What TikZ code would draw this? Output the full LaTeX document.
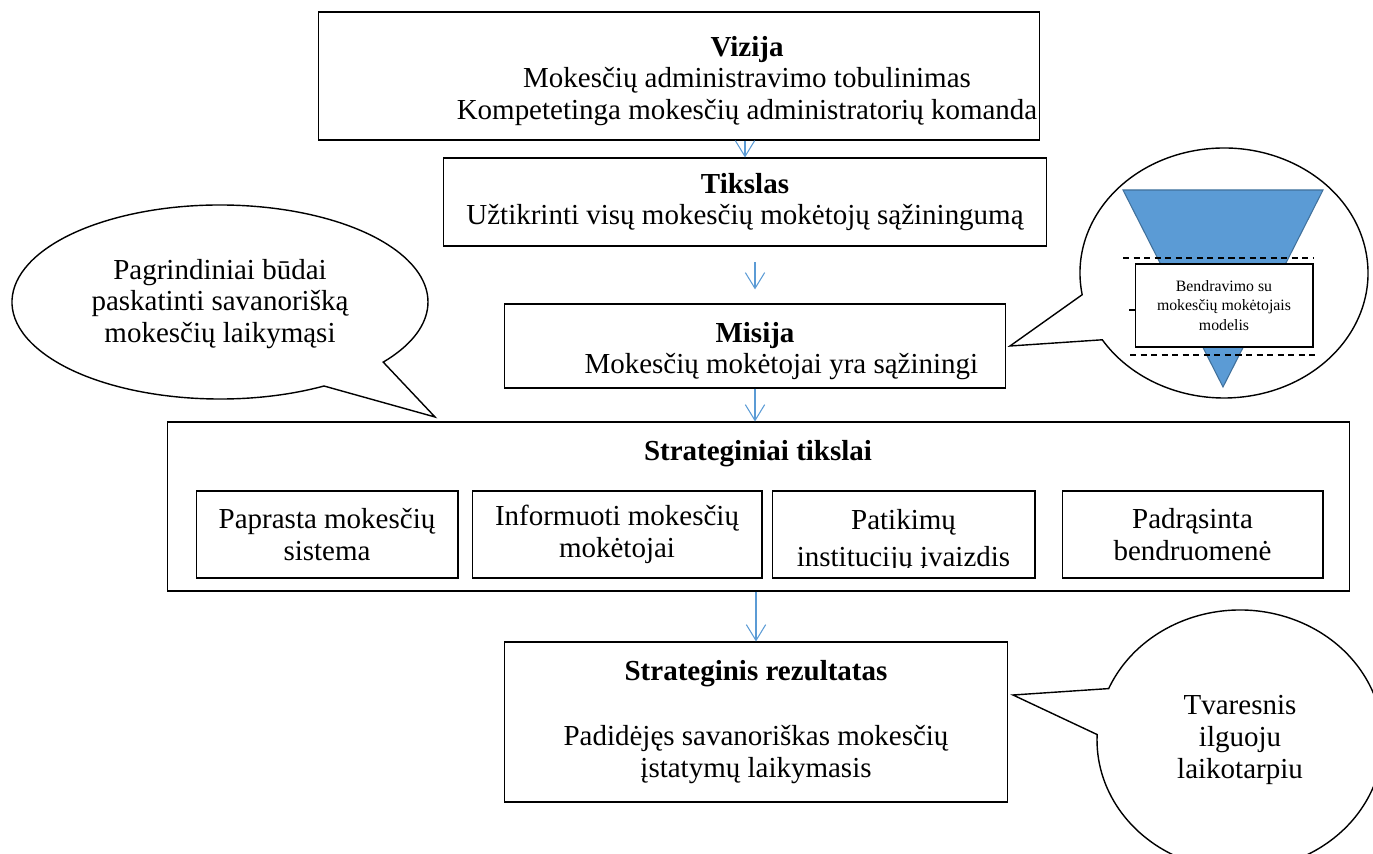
\documentclass[tikz,border=0pt]{standalone}
\usepackage{fontspec}
\setmainfont{Liberation Serif}
\usetikzlibrary{arrows.meta}
\definecolor{arrowblue}{HTML}{5B9BD5}
\definecolor{funnelblue}{HTML}{5B9BD5}
\definecolor{funneledge}{HTML}{41719C}
\begin{document}
\begin{tikzpicture}[x = 0.02cm, y = -0.02cm,
        every node/.style = {font = \fontsize{16.5}{18}\selectfont, align = center},
        box/.style = {draw, line width = 0.6pt, inner sep = 0pt},
        goal/.style = {box, minimum height = 1.74cm},
        arr/.style = {arrowblue, line width = 0.6pt, -{Straight Barb[length = 9pt, width = 11pt]}},
        bubble/.style = {draw, line width = 0.8pt, fill = white},
        guide/.style = {line width = 0.6pt, dash pattern = on 3.5pt off 2.5pt}]
    \clip (0, 0) rectangle (1373, 854);
    \node[box, minimum width = 14.44cm, minimum height = 2.56cm] (vizija) at (679, 76) {};
    \node (vizijatxt) at (747, 81)
        {\textbf{Vizija}\\ Mokesčių administravimo tobulinimas\\ Kompetetinga mokesčių administratorių komanda};
    \node[box, minimum width = 12.08cm, minimum height = 1.76cm] (tikslas) at (745, 202)
        {\textbf{Tikslas}\\ Užtikrinti visų mokesčių mokėtojų sąžiningumą};
    \node[box, minimum width = 10.04cm, minimum height = 1.68cm] (misija) at (755, 346) {};
    \node (misijatxt) at (755, 351) {\textbf{Misija}\\ \hspace*{30pt}Mokesčių mokėtojai yra sąžiningi};
    \node[box, minimum width = 23.66cm, minimum height = 3.38cm] (strat) at (758.5, 506.5) {};
    \node (strattitle) at (758, 454) {\textbf{Strateginiai tikslai}};
    \node[goal, minimum width = 5.24cm] (paprasta) at (327, 534.5) {Paprasta mokesčių\\ sistema};
    \node[goal, minimum width = 5.8cm] (informuoti) at (617, 534.5) {Informuoti mokesčių\\ mokėtojai};
    \node[goal, minimum width = 5.26cm] (patikimu) at (903.5, 534.5) {};
    \begin{scope}
        \clip (772, 491) rectangle (1035, 568);
        \node (patikimutxt) at (903.5, 541) {Patikimų\\[3.5pt] institucijų įvaizdis};
    \end{scope}
    \node[goal, minimum width = 5.22cm] (padrasinta) at (1192.5, 534.5) {Padrąsinta\\ bendruomenė};
    \node[box, minimum width = 10.08cm, minimum height = 3.2cm] (rezultatas) at (756, 722)
        {\textbf{Strateginis rezultatas}\\[19pt] Padidėjęs savanoriškas mokesčių\\ įstatymų laikymasis};
    \draw[arr] (vizija.south -| tikslas.north) -- (tikslas.north);
    \draw[arr, shorten <= 9pt, shorten >= 8pt] (tikslas.south -| misija.north) -- (misija.north);
    \draw[arr] (misija.south) -- (misija.south |- strat.north);
    \draw[arr] (strat.south -| rezultatas.north) -- (rezultatas.north);
    \draw[bubble] (220, 302) ++(60:208 and 97) arc[start angle = 60, end angle = 398.3, x radius = 208, y radius = 97] -- (435, 417) -- cycle;
    \node (budai) at (220, 304) {Pagrindiniai būdai\\ paskatinti savanorišką\\ mokesčių laikymąsi};
    \draw[bubble] (1224, 273) ++(170:144 and 125) arc[start angle = 170, end angle = 507.7, x radius = 144, y radius = 125] -- (1010, 346) -- cycle;
    \filldraw[fill = funnelblue, draw = funneledge, line width = 0.6pt] (1123, 190) -- (1323, 190) -- (1223, 387) -- cycle;
    \draw[guide] (1123, 258) -- (1313, 258);
    \draw[guide] (1129, 310) -- (1318, 310);
    \draw[guide] (1130, 355) -- (1318, 355);
    \node[box, fill = white, minimum width = 3.56cm, minimum height = 1.66cm, font = \fontsize{9}{11.3}\selectfont] (modelis) at (1224, 305.5)
        {Bendravimo su\\ mokesčių mokėtojais\\ modelis};
    \draw[bubble] (1240, 740) ++(203.3:143 and 130) arc[start angle = 203.3, end angle = 542.4, x radius = 143, y radius = 130] -- (1013, 695) -- cycle;
    \node (tvaresnis) at (1240, 740) {Tvaresnis\\ ilguoju\\ laikotarpiu};
\end{tikzpicture}
\end{document}
